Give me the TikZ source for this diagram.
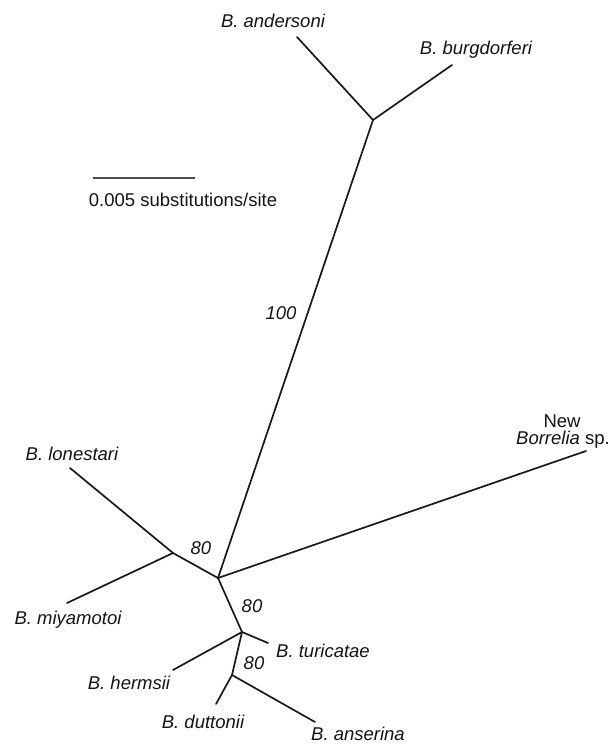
\documentclass[tikz,border=0pt]{standalone}
\usepackage{fontspec}
\setmainfont{Liberation Sans}
\begin{document}
\begin{tikzpicture}[x=1pt,y=-1pt,
  branch/.style={draw=black!90, line width=1.7pt, line cap=round},
  lbl/.style={inner sep=0pt, text=black!92, font=\fontsize{18.5}{22}\selectfont\itshape},
  plain/.style={inner sep=0pt, text=black!92, font=\fontsize{18.5}{22}\selectfont},
  scalebar/.style={draw=black!70, line width=2pt}]
\useasboundingbox (0,0) rectangle (614,744);
% internal nodes
\coordinate (C) at (218,578);
\coordinate (T) at (373,120);
\coordinate (L) at (173,553);
\coordinate (D) at (242,632);
\coordinate (E) at (232,675);
% tips
\coordinate (tand) at (297,37);
\coordinate (tbur) at (452,65);
\coordinate (tnew) at (586,451);
\coordinate (tlon) at (70,468);
\coordinate (tmiy) at (67,603);
\coordinate (ttur) at (268,643);
\coordinate (ther) at (173,670);
\coordinate (tdut) at (216,704);
\coordinate (tans) at (315,722);
% branches
\draw[branch] (C) -- (T);
\draw[branch] (T) -- (tand);
\draw[branch] (T) -- (tbur);
\draw[branch] (C) -- (tnew);
\draw[branch] (C) -- (L);
\draw[branch] (L) -- (tlon);
\draw[branch] (L) -- (tmiy);
\draw[branch] (C) -- (D);
\draw[branch] (D) -- (ttur);
\draw[branch] (D) -- (ther);
\draw[branch] (D) -- (E);
\draw[branch] (E) -- (tdut);
\draw[branch] (E) -- (tans);
% labels
\node[lbl] (land) at (273,21) {B. andersoni};
\node[lbl] (lbur) at (476,50) {B. burgdorferi};
\node[plain] (lnew1) at (562,421) {New};
\node[plain, anchor=west] (lnew2) at (516,440) {\textit{Borrelia} sp.};
\node[lbl] (llon) at (72,454) {B. lonestari};
\node[lbl] (lmiy) at (68,620) {B. miyamotoi};
\node[lbl] (ltur) at (323,651) {B. turicatae};
\node[lbl] (lher) at (129,683) {B. hermsii};
\node[lbl] (ldut) at (203,722) {B. duttonii};
\node[lbl] (lans) at (358,734) {B. anserina};
% bootstrap values
\node[lbl] (b100) at (281,313) {100};
\node[lbl] (b80a) at (201,548) {80};
\node[lbl] (b80b) at (252,606) {80};
\node[lbl] (b80c) at (254,663) {80};
% scale bar
\coordinate (s1) at (93,178);
\coordinate (s2) at (195,178);
\draw[scalebar] (s1) -- (s2);
\node[plain] (slbl) at (183,200) {0.005 substitutions/site};
\end{tikzpicture}
\end{document}
